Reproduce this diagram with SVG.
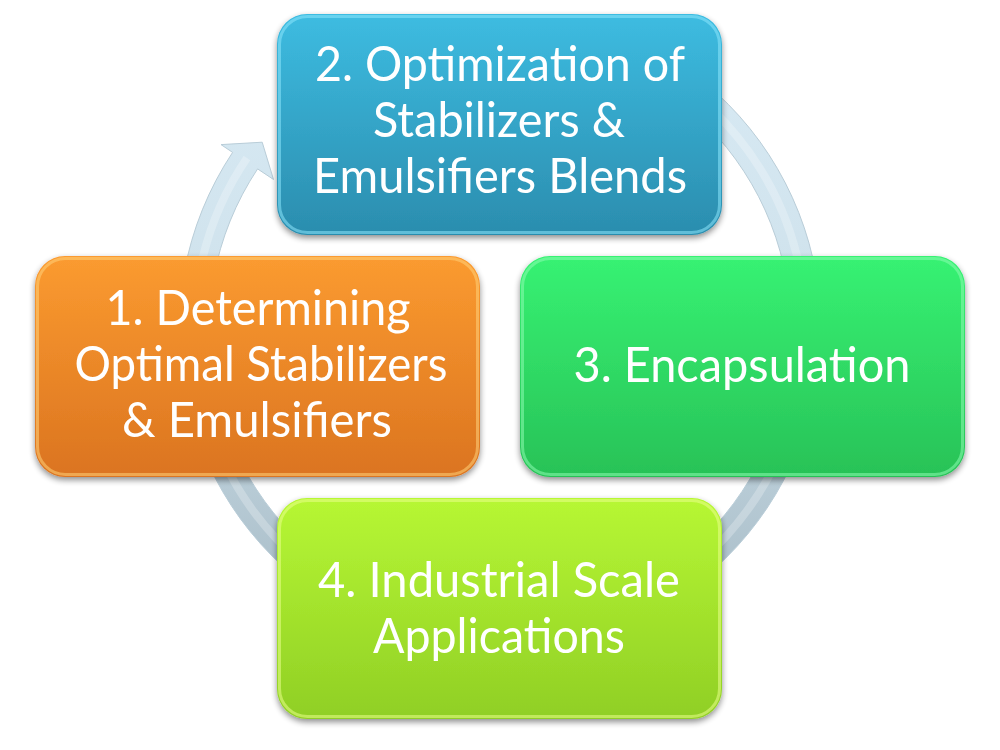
<svg xmlns="http://www.w3.org/2000/svg" width="1000" height="750" viewBox="0 0 1000 750">
<defs>
<style>
.lbl{font-family:Lato,"Open Sans","Liberation Sans",sans-serif;font-size:48px;fill:#ffffff;text-anchor:middle}
.bevel{fill:none;stroke-width:3;stroke-opacity:0.55}
</style>
<filter id="sh" x="-10%" y="-10%" width="120%" height="125%">
<feGaussianBlur in="SourceAlpha" stdDeviation="3"/>
<feOffset dx="0" dy="3" result="b"/>
<feComponentTransfer><feFuncA type="linear" slope="0.45"/></feComponentTransfer>
<feMerge><feMergeNode/><feMergeNode in="SourceGraphic"/></feMerge>
</filter>
<linearGradient id="gArc" gradientUnits="userSpaceOnUse" x1="0" y1="10" x2="0" y2="650">
<stop offset="0" stop-color="#d9ebf5"/>
<stop offset="0.45" stop-color="#cfe2ec"/>
<stop offset="1" stop-color="#a3b7c2"/>
</linearGradient>
<linearGradient id="gBlue" x1="0" y1="0" x2="0" y2="1">
<stop offset="0" stop-color="#3dbce1"/>
<stop offset="1" stop-color="#2b8dae"/>
</linearGradient>
<linearGradient id="gOrange" x1="0" y1="0" x2="0" y2="1">
<stop offset="0" stop-color="#fb9b30"/>
<stop offset="1" stop-color="#db7420"/>
</linearGradient>
<linearGradient id="gGreen" x1="0" y1="0" x2="0" y2="1">
<stop offset="0" stop-color="#37f273"/>
<stop offset="1" stop-color="#28c257"/>
</linearGradient>
<linearGradient id="gLime" x1="0" y1="0" x2="0" y2="1">
<stop offset="0" stop-color="#b7f734"/>
<stop offset="1" stop-color="#90cf25"/>
</linearGradient>
</defs>
<rect width="1000" height="750" fill="#ffffff"/>

<g id="connectors">
<path d="M 635.7,39.1 A 321 321 0 1 1 232.6,152.4 L 221.0,144.6 L 262.2,142.2 L 273.5,179.5 L 257.6,168.9 A 291 291 0 1 0 623.0,66.3 Z" fill="url(#gArc)" stroke="#b9cdd8" stroke-width="1"/>
<path d="M 500,24 A 306 306 0 1 1 247,158" fill="none" stroke="#ffffff" stroke-opacity="0.25" stroke-width="8"/>
</g>

<g id="node1" filter="url(#sh)">
<rect x="35" y="256" width="445" height="221" rx="30" fill="url(#gOrange)"/>
<rect x="37.5" y="258.5" width="440" height="216" rx="28" class="bevel" stroke="#ffd27a"/>
<text class="lbl" x="258" y="325" textLength="305" lengthAdjust="spacingAndGlyphs">1. Determining</text>
<text class="lbl" x="261" y="381" textLength="373" lengthAdjust="spacingAndGlyphs">Optimal Stabilizers</text>
<text class="lbl" x="257" y="437" textLength="270" lengthAdjust="spacingAndGlyphs">&amp; Emulsifiers</text>
</g>

<g id="node2" filter="url(#sh)">
<rect x="277" y="14" width="445" height="221" rx="30" fill="url(#gBlue)"/>
<rect x="279.5" y="16.5" width="440" height="216" rx="28" class="bevel" stroke="#8ce6fb"/>
<text class="lbl" x="500" y="81" textLength="370" lengthAdjust="spacingAndGlyphs">2. Optimization of</text>
<text class="lbl" x="499" y="137" textLength="252" lengthAdjust="spacingAndGlyphs">Stabilizers &amp;</text>
<text class="lbl" x="500" y="193" textLength="374" lengthAdjust="spacingAndGlyphs">Emulsifiers Blends</text>
</g>

<g id="node3" filter="url(#sh)">
<rect x="520" y="256" width="445" height="221" rx="30" fill="url(#gGreen)"/>
<rect x="522.5" y="258.5" width="440" height="216" rx="28" class="bevel" stroke="#8cfbb0"/>
<text class="lbl" x="742" y="382" textLength="337" lengthAdjust="spacingAndGlyphs">3. Encapsulation</text>
</g>

<g id="node4" filter="url(#sh)">
<rect x="277" y="498" width="445" height="221" rx="30" fill="url(#gLime)"/>
<rect x="279.5" y="500.5" width="440" height="216" rx="28" class="bevel" stroke="#eaff8a"/>
<text class="lbl" x="499" y="597" textLength="362" lengthAdjust="spacingAndGlyphs">4. Industrial Scale</text>
<text class="lbl" x="499" y="653" textLength="252" lengthAdjust="spacingAndGlyphs">Applications</text>
</g>
</svg>
